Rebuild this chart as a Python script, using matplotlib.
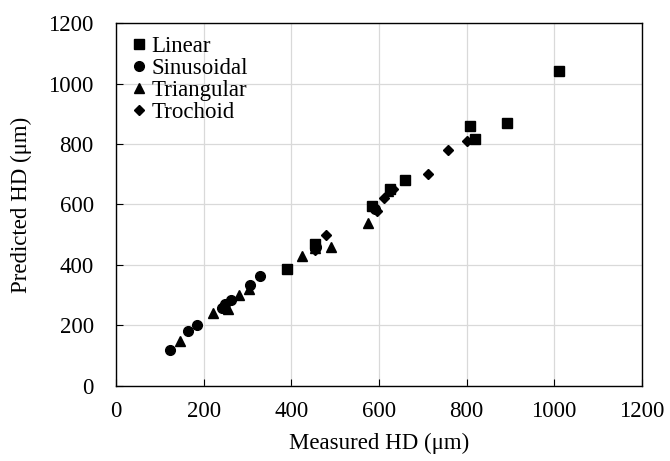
import matplotlib.pyplot as plt

plt.rcParams['font.family'] = ['Liberation Serif', 'DejaVu Serif']

# Measured vs predicted HD for each toolpath type (um)
linear_meas = [1010, 808, 893, 820, 660, 625, 585, 455, 390]
linear_pred = [1040, 860, 870, 815, 680, 650, 595, 470, 385]

sinus_meas = [123, 165, 186, 241, 249, 262, 306, 329, 457, 590]
sinus_pred = [117, 183, 202, 257, 272, 283, 332, 362, 460, 585]

tri_meas = [146, 222, 256, 281, 304, 425, 490, 575, 455, 620]
tri_pred = [150, 240, 254, 302, 320, 430, 460, 540, 455, 645]

troch_meas = [480, 455, 595, 612, 632, 712, 757, 800]
troch_pred = [500, 450, 580, 620, 650, 700, 780, 810]

fig = plt.figure(figsize=(6.7, 4.61), dpi=100)
ax = fig.add_axes([0.173, 0.163, 0.785, 0.787])

ax.plot(linear_meas, linear_pred, 's', color='black', ms=6.5, label='Linear')
ax.plot(sinus_meas, sinus_pred, 'o', color='black', ms=7, label='Sinusoidal')
ax.plot(tri_meas, tri_pred, '^', color='black', ms=7, label='Triangular')
ax.plot(troch_meas, troch_pred, 'D', color='black', ms=5, label='Trochoid')

ax.set_xlim(0, 1200)
ax.set_ylim(0, 1200)
ax.set_xticks(range(0, 1201, 200))
ax.set_yticks(range(0, 1201, 200))
ax.grid(True, color='#d9d9d9', linewidth=0.9)
ax.set_axisbelow(True)
ax.tick_params(direction='in', length=5, labelsize=16.5)
ax.tick_params(axis='x', pad=11)
ax.tick_params(axis='y', pad=16)
for s in ax.spines.values():
    s.set_linewidth(1.0)

ax.set_xlabel('Measured HD (\u03bcm)', fontsize=16.5, labelpad=8)
ax.set_ylabel('Predicted HD (\u03bcm)', fontsize=16.5, labelpad=12)

ax.legend(loc='upper left', frameon=False, fontsize=16.5, handletextpad=0.1,
          handlelength=0.9, labelspacing=0.05, borderaxespad=0.15)

fig.savefig('out.png', dpi=100)
